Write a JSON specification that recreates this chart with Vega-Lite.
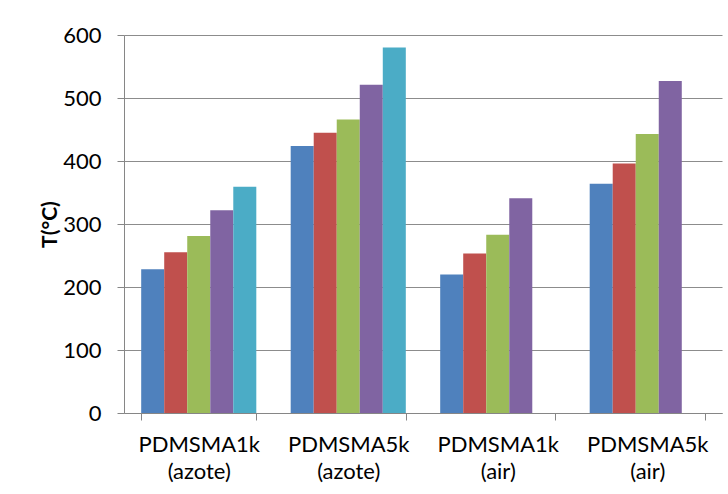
{
  "$schema": "https://vega.github.io/schema/vega-lite/v6.json",
  "autosize": "none",
  "padding": {"left": 124, "top": 35, "right": 6, "bottom": 81},
  "width": 598,
  "height": 378,
  "background": "white",
  "config": {"view": {"stroke": null}},
  "data": {
    "values": [
      {"sample": "PDMSMA1k (azote)", "series": "s1", "T": 228},
      {"sample": "PDMSMA1k (azote)", "series": "s2", "T": 255},
      {"sample": "PDMSMA1k (azote)", "series": "s3", "T": 281},
      {"sample": "PDMSMA1k (azote)", "series": "s4", "T": 322},
      {"sample": "PDMSMA1k (azote)", "series": "s5", "T": 359},
      {"sample": "PDMSMA5k (azote)", "series": "s1", "T": 424},
      {"sample": "PDMSMA5k (azote)", "series": "s2", "T": 445},
      {"sample": "PDMSMA5k (azote)", "series": "s3", "T": 466},
      {"sample": "PDMSMA5k (azote)", "series": "s4", "T": 521},
      {"sample": "PDMSMA5k (azote)", "series": "s5", "T": 580},
      {"sample": "PDMSMA1k (air)", "series": "s1", "T": 220},
      {"sample": "PDMSMA1k (air)", "series": "s2", "T": 253},
      {"sample": "PDMSMA1k (air)", "series": "s3", "T": 283},
      {"sample": "PDMSMA1k (air)", "series": "s4", "T": 341},
      {"sample": "PDMSMA5k (air)", "series": "s1", "T": 364},
      {"sample": "PDMSMA5k (air)", "series": "s2", "T": 396},
      {"sample": "PDMSMA5k (air)", "series": "s3", "T": 443},
      {"sample": "PDMSMA5k (air)", "series": "s4", "T": 527}
    ]
  },
  "mark": {"type": "bar"},
  "encoding": {
    "x": {
      "field": "sample",
      "type": "nominal",
      "sort": null,
      "scale": {"paddingInner": 0.23, "paddingOuter": 0.115},
      "axis": {
        "title": null,
        "labelAngle": 0,
        "labelExpr": "split(datum.label, ' ')",
        "labelFont": "Lato",
        "labelFontSize": 22,
        "labelColor": "black",
        "labelLineHeight": 27,
        "labelPadding": 14,
        "labelBaseline": "top",
        "tickBand": "extent",
        "tickSize": 7,
        "tickColor": "#868686",
        "domainColor": "#868686",
        "grid": false
      }
    },
    "xOffset": {
      "field": "series",
      "type": "nominal",
      "scale": {"domain": ["s1", "s2", "s3", "s4", "s5"], "paddingInner": 0, "paddingOuter": 0}
    },
    "y": {
      "field": "T",
      "type": "quantitative",
      "scale": {"domain": [0, 600], "nice": false},
      "axis": {
        "title": "T(°C)",
        "titleFont": "Lato",
        "titleFontSize": 21,
        "titleFontWeight": "bold",
        "titleColor": "black",
        "titlePadding": 2,
        "values": [0, 100, 200, 300, 400, 500, 600],
        "labelFont": "Lato",
        "labelFontSize": 22,
        "labelColor": "black",
        "labelPadding": 16,
        "tickSize": 7,
        "tickColor": "#868686",
        "domainColor": "#868686",
        "grid": true,
        "gridColor": "#8c8c8c",
        "gridWidth": 1
      }
    },
    "color": {
      "field": "series",
      "type": "nominal",
      "legend": null,
      "scale": {
        "domain": ["s1", "s2", "s3", "s4", "s5"],
        "range": ["#4F81BD", "#C0504D", "#9BBB59", "#8064A2", "#4BACC6"]
      }
    }
  }
}
